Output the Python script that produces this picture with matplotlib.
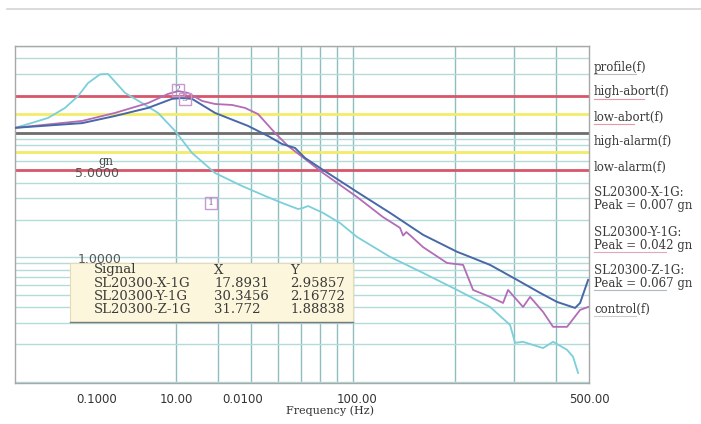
import matplotlib.pyplot as plt
import numpy as np
from matplotlib.lines import Line2D
from matplotlib.patches import Rectangle
from matplotlib.ticker import LogLocator, NullFormatter, NullLocator
import matplotlib.transforms as mtransforms

# SL20300-X-1G (cyan)
x_freq = [10.0, 10.93, 12.52, 14.06, 15.37, 16.45, 17.85, 18.85, 21.17, 23.77, 26.51,
          29.76, 33.42, 39.09, 46.99, 54.97, 61.72, 68.84, 71.23, 73.70, 81.61, 91.65,
          102.9, 128.9, 161.4, 203.5, 254.8, 292.0, 302.1, 319.0, 365.6, 391.4, 430.6,
          448.6, 464.2]
x_gn = [1.10, 1.18, 1.32, 1.59, 1.98, 2.52, 2.96, 2.98, 2.10, 1.74, 1.45,
        1.04, 0.691, 0.477, 0.375, 0.312, 0.274, 0.245, 0.250, 0.259, 0.228, 0.189,
        0.146, 0.101, 0.0751, 0.0548, 0.0400, 0.0287, 0.0206, 0.0210, 0.0187, 0.0210, 0.0181,
        0.0159, 0.0118]

# SL20300-Y-1G (mauve)
y_freq = [10.0, 15.79, 19.77, 24.76, 28.38, 30.37, 32.52, 35.78, 39.09, 43.89, 47.96,
          52.40, 58.85, 64.30, 72.21, 81.61, 102.9, 122.8, 137.9, 140.8, 144.0, 148.0,
          161.4, 190.0, 212.0, 226.9, 254.8, 278.4, 288.0, 319.0, 334.6, 365.6, 391.4,
          430.6, 470.6, 497.0]
y_gn = [1.10, 1.25, 1.45, 1.74, 2.06, 2.17, 2.10, 1.81, 1.71, 1.68, 1.59,
        1.42, 1.00, 0.786, 0.618, 0.477, 0.306, 0.211, 0.173, 0.150, 0.160, 0.150,
        0.121, 0.0903, 0.0871, 0.0548, 0.0482, 0.0431, 0.0548, 0.0400, 0.0482, 0.0365, 0.0277,
        0.0277, 0.0379, 0.0400]

# SL20300-Z-1G (blue)
z_freq = [10.0, 15.79, 19.77, 24.76, 29.16, 31.21, 33.42, 39.09, 48.95, 56.11, 61.72,
          67.44, 72.21, 81.61, 102.9, 128.9, 161.4, 203.5, 222.3, 254.8, 306.3, 358.3,
          402.2, 454.8, 470.6, 497.0]
z_gn = [1.10, 1.20, 1.37, 1.59, 1.88, 1.91, 1.88, 1.45, 1.14, 0.946, 0.816,
        0.758, 0.630, 0.505, 0.336, 0.228, 0.152, 0.111, 0.101, 0.0871, 0.0660, 0.0519,
        0.0439, 0.0393, 0.0431, 0.0660]

# limit lines
limit_levels = [2.0, 1.414, 1.0, 0.7071, 0.5]
limit_colors = ['#d9566a', '#f3ec6a', '#6e6e6e', '#f3ec6a', '#d9566a']

# cursor table
signals = ['SL20300-X-1G', 'SL20300-Y-1G', 'SL20300-Z-1G']
cursor_x = ['17.8931', '30.3456', '31.772']
cursor_y = ['2.95857', '2.16772', '1.88838']

# cursor marker boxes
marker_ids = ['1', '2', '3']
marker_freq = [38.0, 30.3456, 31.772]
marker_gn = [0.274, 2.22, 1.888]

# x axis labels as shown
tick_freq = [17.5, 30, 47.3, 103, 500]
tick_labels = ['0.1000', '10.00', '0.0100', '100.00', '500.00']
grid_freq = [30, 40, 50, 60, 70, 80, 90, 100, 200, 300, 400]

right_labels = ['profile(f)', 'high-abort(f)', 'low-abort(f)', 'high-alarm(f)', 'low-alarm(f)',
                'SL20300-X-1G:\nPeak = 0.007 gn', 'SL20300-Y-1G:\nPeak = 0.042 gn',
                'SL20300-Z-1G:\nPeak = 0.067 gn', 'control(f)']
right_y = [67, 92, 117, 141, 167, 199, 239, 277, 309]
underline_col = ['#bbbbbb', '#e39aa8', '#e39aa8', '#efe9a0', '#efe9a0', '#cccccc',
                 '#e3a6c0', '#b0b8c8', '#cccccc']
underline_w = [42, 50, 40, 0, 0, 0, 72, 72, 42]

W, H = 701, 424
fig = plt.figure(figsize=(W / 100, H / 100), dpi=100)
ax = fig.add_axes([15 / W, 41 / H, 574 / W, 337 / H])
ax.set_xscale('log')
ax.set_yscale('log')
ax.set_xlim(10, 500)
ax.set_ylim(0.0098, 5.0)

ax.yaxis.set_major_locator(LogLocator(base=10, subs=np.arange(1, 10)))
ax.yaxis.set_major_formatter(NullFormatter())
ax.yaxis.set_minor_locator(NullLocator())
ax.grid(axis='y', which='major', color='#b4dada', lw=1.0)

ax.xaxis.remove_overlapping_locs = False
ax.set_xticks(tick_freq)
ax.set_xticklabels(tick_labels, fontsize=8.5, color='#333333', family='DejaVu Sans')
ax.set_xticks(grid_freq, minor=True)
ax.xaxis.set_minor_formatter(NullFormatter())
ax.grid(axis='x', which='minor', color='#8fbebe', lw=1.0)
ax.tick_params(which='both', length=0, pad=7)
for s in ax.spines.values():
    s.set_color('#a8a8a8')
    s.set_linewidth(1.0)

for lv, c in zip(limit_levels, limit_colors):
    ax.axhline(lv, color=c, lw=2.0, zorder=2)

ax.plot(x_freq, x_gn, color='#7ccfd9', lw=1.3, zorder=3)
ax.plot(y_freq, y_gn, color='#b36cb6', lw=1.3, zorder=3)
ax.plot(z_freq, z_gn, color='#4868a8', lw=1.4, zorder=4)

for mid, mf, mg in zip(marker_ids, marker_freq, marker_gn):
    ax.plot(mf, mg, marker='s', ms=9, mfc='none', mec='#c69ad0', mew=1.0, zorder=5)
    ax.text(mf, mg, mid, ha='center', va='center', fontsize=7, color='#a070b0',
            family='DejaVu Serif', zorder=5)

trans = mtransforms.blended_transform_factory(ax.transAxes, ax.transData)
ax.text(0.158, 0.59, 'gn', transform=trans, ha='center', va='center',
        fontsize=8.5, color='#444444', family='DejaVu Serif', zorder=2)
ax.text(0.143, 0.47, '5.0000', transform=trans, ha='center', va='center',
        fontsize=9, color='#555555', zorder=2)
ax.text(0.148, 0.096, '1.0000', transform=trans, ha='center', va='center',
        fontsize=9, color='#555555', zorder=2)

# cursor readout box
box = Rectangle((70 / W, 1 - 322 / H), 283 / W, 59 / H, transform=fig.transFigure,
                facecolor='#fcf7dc', edgecolor='#e2dcb8', lw=0.8, zorder=6)
fig.add_artist(box)
fig.add_artist(Line2D([70 / W, 353 / W], [1 - 322 / H] * 2, color='#7a7a7a', lw=1.0, zorder=7))
rows = [('Signal', 'X', 'Y')] + list(zip(signals, cursor_x, cursor_y))
for i, row in enumerate(rows):
    yy = 1 - (270 + i * 13.3) / H
    for xx, t in zip([94, 214, 290], row):
        fig.text(xx / W, yy, t, ha='left', va='center', fontsize=9.5, color='#3a3a3a',
                 family='DejaVu Serif', zorder=8)

for t, py, uc, uw in zip(right_labels, right_y, underline_col, underline_w):
    fig.text(594 / W, 1 - py / H, t, ha='left', va='center', fontsize=8.5,
             color='#3a3a3a', family='DejaVu Serif', linespacing=0.95)
    if uw:
        ly = py + 7 if '\n' not in t else py + 13
        fig.add_artist(Line2D([594 / W, (594 + uw) / W], [1 - ly / H] * 2, color=uc, lw=0.8))

fig.text(330 / W, 1 - 411 / H, 'Frequency (Hz)', ha='center', va='center', fontsize=8,
         color='#333333', family='DejaVu Serif')
fig.add_artist(Line2D([7 / W, 1.0], [1 - 9 / H] * 2, color='#d4d4d4', lw=1.2))

fig.savefig('out.png', dpi=100)
